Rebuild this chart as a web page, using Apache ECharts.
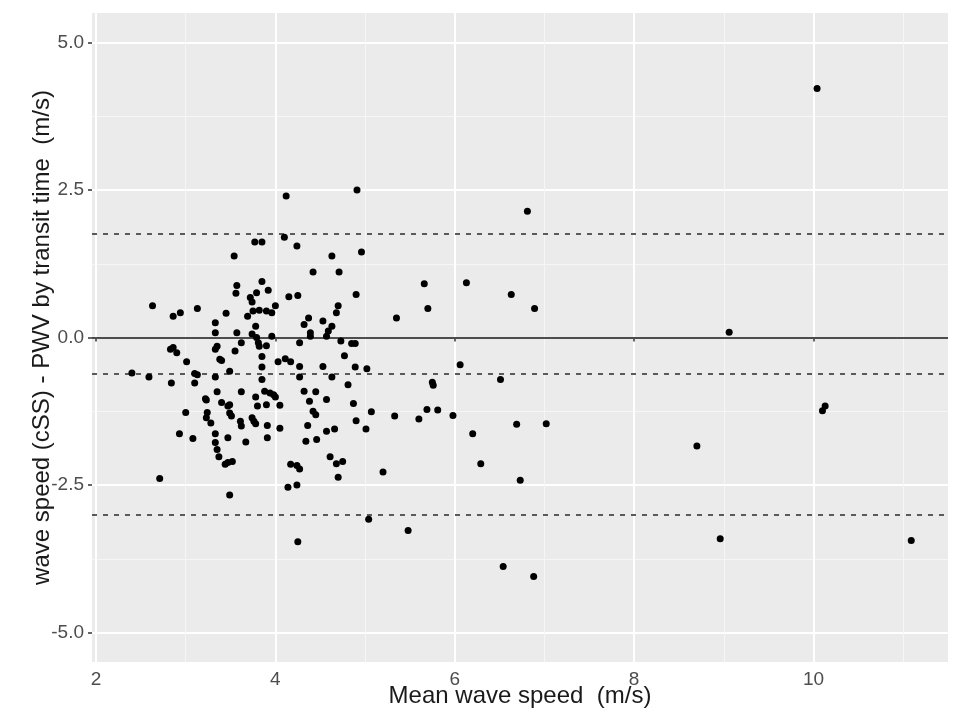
<!DOCTYPE html>
<html>
<head>
<meta charset="utf-8">
<title>Bland-Altman: cSS vs PWV</title>
<script src="https://cdn.jsdelivr.net/npm/echarts@6/dist/echarts.min.js"></script>
<style>
  html, body { margin: 0; padding: 0; background: #fff; }
  #chart { width: 960px; height: 718px; }
</style>
</head>
<body>
<div id="chart"></div>
<script>
// mean of the two wave speeds (m/s)
var meanSpeed = [
  4.12, 4.10, 3.77, 3.85, 4.24, 3.54, 4.42, 3.85, 3.57, 3.56,
  3.92, 3.79, 3.72, 3.74, 4.15, 4.25, 2.63, 4.00, 3.13, 2.86,
  2.94, 3.45, 3.69, 3.75, 3.82, 3.90, 3.96, 3.78, 4.37, 4.32,
  3.33, 3.33, 3.57, 3.74, 3.79, 3.96, 4.39, 2.86, 2.90, 2.83,
  3.01, 3.35, 3.33, 3.38, 3.40, 3.55, 3.62, 3.81, 3.82, 3.90,
  3.85, 4.03, 4.11, 4.17, 4.27, 4.27,
  2.40, 2.59, 2.84, 3.10, 3.13, 3.10, 3.33, 3.49, 3.85, 3.85,
  4.27, 3.35, 3.62, 3.78, 3.88, 3.94, 3.98, 4.00, 4.32, 4.45,
  3.22, 3.23, 3.40, 3.49, 3.47, 3.80, 3.90, 4.05, 4.38, 4.42,
  4.45, 3.00, 3.24, 3.23, 3.49, 3.51, 3.74, 3.76, 3.78, 3.61,
  3.62, 3.28, 2.93, 3.08, 3.33, 3.47, 3.67, 3.91, 3.91, 4.05,
  4.36, 4.34, 4.46, 3.33, 3.35, 3.37, 3.44, 3.47, 3.52, 2.71,
  3.49, 4.17, 4.24, 4.27, 4.14, 4.24, 4.25,
  4.91, 6.81, 4.96, 4.63, 4.71, 5.66, 6.13, 6.63, 4.90, 4.70,
  4.68, 5.70, 6.89, 5.35, 4.53, 4.63, 4.59, 4.39, 4.57, 4.73,
  4.85, 4.89, 4.77, 4.53, 4.89, 5.02, 6.06,
  4.63, 4.81, 5.75, 5.76, 6.51, 4.57, 4.87, 5.07, 5.33, 5.69,
  5.81, 5.60, 5.98, 6.69, 7.02, 6.20, 4.90, 5.01, 4.57, 4.66,
  6.29, 4.61, 4.68, 4.75, 4.70, 5.20, 6.73, 5.04, 5.48,
  10.04, 9.06, 10.13, 10.10, 8.70, 8.96, 11.09, 6.54, 6.88
];
// cSS minus PWV by transit time (m/s)
var speedDiff = [
  2.40, 1.70, 1.62, 1.62, 1.55, 1.38, 1.11, 0.95, 0.88, 0.75,
  0.80, 0.76, 0.68, 0.60, 0.69, 0.71, 0.54, 0.54, 0.49, 0.36,
  0.42, 0.41, 0.36, 0.45, 0.46, 0.45, 0.42, 0.19, 0.33, 0.22,
  0.25, 0.08, 0.08, 0.06, 0.00, 0.02, 0.08, -0.17, -0.26, -0.20,
  -0.41, -0.15, -0.20, -0.37, -0.39, -0.23, -0.09, -0.09, -0.15, -0.14,
  -0.32, -0.41, -0.36, -0.41, -0.09, -0.49,
  -0.60, -0.67, -0.77, -0.61, -0.63, -0.77, -0.67, -0.57, -0.71, -0.50,
  -0.67, -0.92, -0.92, -1.01, -0.91, -0.94, -0.97, -1.01, -0.91, -0.92,
  -1.04, -1.06, -1.10, -1.14, -1.16, -1.16, -1.14, -1.15, -1.08, -1.25,
  -1.31, -1.27, -1.27, -1.36, -1.28, -1.33, -1.36, -1.42, -1.46, -1.42,
  -1.50, -1.45, -1.63, -1.71, -1.63, -1.70, -1.77, -1.49, -1.70, -1.54,
  -1.49, -1.76, -1.73, -1.78, -1.90, -2.02, -2.15, -2.12, -2.10, -2.39,
  -2.67, -2.15, -2.17, -2.23, -2.54, -2.50, -3.46,
  2.50, 2.14, 1.45, 1.38, 1.11, 0.91, 0.93, 0.73, 0.73, 0.54,
  0.42, 0.49, 0.49, 0.33, 0.28, 0.19, 0.11, 0.02, 0.02, -0.06,
  -0.10, -0.10, -0.31, -0.49, -0.50, -0.53, -0.46,
  -0.67, -0.80, -0.76, -0.81, -0.71, -1.05, -1.12, -1.26, -1.33, -1.22,
  -1.23, -1.38, -1.32, -1.47, -1.46, -1.63, -1.41, -1.55, -1.59, -1.55,
  -2.14, -2.02, -2.14, -2.10, -2.37, -2.28, -2.42, -3.08, -3.27,
  4.22, 0.09, -1.16, -1.24, -1.84, -3.41, -3.44, -3.88, -4.05
];

// bias and limits of agreement
var zeroLine = 0;
var agreementLines = [1.76, -0.62, -3.0];

var xTicks = [2, 4, 6, 8, 10];
var yTicks = [-5, -2.5, 0, 2.5, 5];
var xRange = [1.955, 11.5];
var yRange = [-5.5, 5.5];

var chart = echarts.init(document.getElementById('chart'), null, { renderer: 'canvas' });

var points = meanSpeed.map(function (x, i) { return [x, speedDiff[i]]; });

var refLines = [{ yAxis: zeroLine, lineStyle: { type: 'solid', color: '#4d4d4d', width: 2 } }];
agreementLines.forEach(function (v) {
  refLines.push({ yAxis: v, lineStyle: { type: [5, 6], color: '#5a5a5a', width: 2 } });
});

var option = {
  backgroundColor: '#fff',
  animation: false,
  grid: {
    left: 92,
    right: 12,
    top: 13,
    bottom: 56,
    show: true,
    backgroundColor: '#EBEBEB',
    borderWidth: 0
  },
  xAxis: {
    type: 'value',
    min: xRange[0],
    max: xRange[1],
    minInterval: 2,
    maxInterval: 2,
    name: 'Mean wave speed  (m/s)',
    nameLocation: 'middle',
    nameGap: 22,
    nameMoveOverlap: false,
    nameTextStyle: { fontFamily: 'Liberation Sans', fontSize: 24, color: '#1a1a1a' },
    axisLine: { show: false },
    axisTick: { show: true, length: 4, customValues: xTicks, lineStyle: { color: '#333', width: 1.5 } },
    axisLabel: {
      customValues: xTicks,
      margin: 8,
      fontFamily: 'Liberation Sans',
      fontSize: 19,
      color: '#4d4d4d',
      formatter: function (v) { return String(v); }
    },
    splitLine: { show: true, lineStyle: { color: '#ffffff', width: 2 } },
    minorTick: { show: false, splitNumber: 2 },
    minorSplitLine: { show: true, lineStyle: { color: '#f6f6f6', width: 1 } }
  },
  yAxis: {
    type: 'value',
    min: yRange[0],
    max: yRange[1],
    minInterval: 2.5,
    maxInterval: 2.5,
    name: 'wave speed (cSS) - PWV by transit time  (m/s)',
    nameLocation: 'middle',
    nameGap: 38,
    nameMoveOverlap: false,
    nameTextStyle: { fontFamily: 'Liberation Sans', fontSize: 24, color: '#1a1a1a' },
    axisLine: { show: false },
    axisTick: { show: true, length: 4, customValues: yTicks, lineStyle: { color: '#333', width: 1.5 } },
    axisLabel: {
      customValues: yTicks,
      margin: 8,
      fontFamily: 'Liberation Sans',
      fontSize: 19,
      color: '#4d4d4d',
      formatter: function (v) { return v.toFixed(1); }
    },
    splitLine: { show: true, lineStyle: { color: '#ffffff', width: 2 } },
    minorTick: { show: false, splitNumber: 2 },
    minorSplitLine: { show: true, lineStyle: { color: '#f6f6f6', width: 1 } }
  },
  series: [{
    type: 'scatter',
    data: points,
    symbol: 'circle',
    symbolSize: 7,
    itemStyle: { color: '#000', opacity: 1 },
    z: 3,
    markLine: {
      silent: true,
      symbol: 'none',
      label: { show: false },
      z: 2,
      data: refLines
    }
  }]
};

chart.setOption(option);
</script>
</body>
</html>
